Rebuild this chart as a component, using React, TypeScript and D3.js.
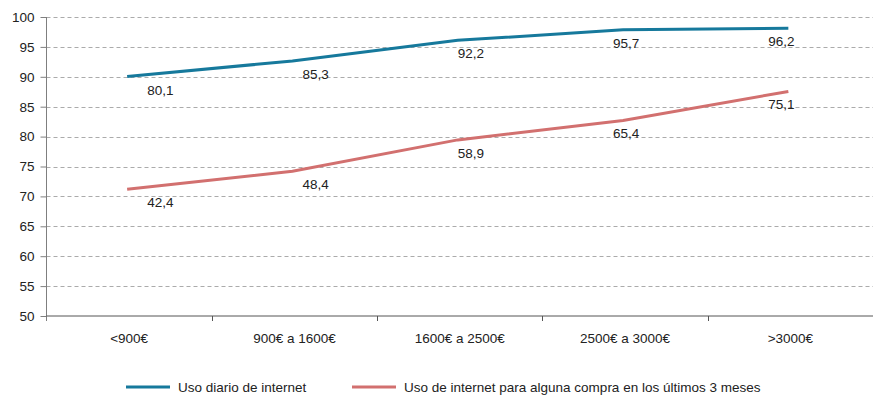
import { useEffect, useRef } from "react"
import * as d3 from "d3"

const categories = ["<900€", "900€ a 1600€", "1600€ a 2500€", "2500€ a 3000€", ">3000€"]
const usoDiario = [80.1, 85.3, 92.2, 95.7, 96.2]
const usoCompra = [42.4, 48.4, 58.9, 65.4, 75.1]
const yTicks = [50, 55, 60, 65, 70, 75, 80, 85, 90, 95, 100]
const seriesNames = ["Uso diario de internet", "Uso de internet para alguna compra en los últimos 3 meses"]
const seriesColors = ["#16799c", "#d2706f"]

const fmt = (v: number) => v.toFixed(1).replace(".", ",")

export default function App() {
  const svgRef = useRef<SVGSVGElement>(null)

  useEffect(() => {
    if (!svgRef.current) return
    const svg = d3.select(svgRef.current)
    svg.selectAll("*").remove()

    const left = 46.5
    const right = 873
    const top = 17
    const bottom = 316
    const font = "'Liberation Sans', Arial, sans-serif"
    const fs = 13.5

    const x = d3.scaleBand().domain(categories).range([left, right])
    // visible axis 50-100, values plotted on a hidden 0-100 scale
    const yAxis = d3.scaleLinear().domain([50, 100]).range([bottom, top])
    const yData = d3.scaleLinear().domain([0, 100]).range([bottom, top])

    // gridlines
    svg
      .append("g")
      .selectAll("line")
      .data(yTicks.slice(1))
      .enter()
      .append("line")
      .attr("x1", left)
      .attr("x2", right)
      .attr("y1", (d) => Math.round(yAxis(d)) + 0.5)
      .attr("y2", (d) => Math.round(yAxis(d)) + 0.5)
      .attr("stroke", "#ababab")
      .attr("stroke-dasharray", "4,3")

    // y axis
    const ya = svg
      .append("g")
      .attr("transform", `translate(${left},0)`)
      .call(d3.axisLeft(yAxis).tickValues(yTicks).tickSize(6).tickPadding(6))
    ya.select(".domain").attr("stroke", "#7f7f7f").attr("d", `M0,${top}V${bottom + 5}`)
    ya.selectAll(".tick line").attr("stroke", "#7f7f7f")
    ya.selectAll("text").attr("font-family", font).attr("font-size", fs).attr("fill", "#222")

    // x axis
    const xa = svg
      .append("g")
      .attr("transform", `translate(0,${bottom})`)
      .call(d3.axisBottom(x).tickSize(0).tickPadding(17))
    xa.select(".domain").attr("stroke", "#555").attr("d", `M${left},0H${right}`)
    xa.selectAll("text").attr("font-family", font).attr("font-size", fs).attr("fill", "#222")
    xa.selectAll(".bound")
      .data(categories.slice(1))
      .enter()
      .append("line")
      .attr("x1", (d) => Math.round(x(d)!) + 0.5)
      .attr("x2", (d) => Math.round(x(d)!) + 0.5)
      .attr("y1", 0)
      .attr("y2", 5)
      .attr("stroke", "#555")

    const cx = (i: number) => x(categories[i])! + x.bandwidth() / 2 - 2

    const line = d3
      .line<number>()
      .x((_, i) => cx(i))
      .y((d) => yData(d))

    ;[usoDiario, usoCompra].forEach((vals, s) => {
      svg
        .append("path")
        .datum(vals)
        .attr("d", line)
        .attr("fill", "none")
        .attr("stroke", seriesColors[s])
        .attr("stroke-width", 3)

      svg
        .append("g")
        .selectAll("text")
        .data(vals)
        .enter()
        .append("text")
        .attr("x", (_, i) => cx(i) + 20 - 10 * i)
        .attr("y", (d) => yData(d) + 18)
        .attr("font-family", font)
        .attr("font-size", fs)
        .attr("fill", "#222")
        .text((d) => fmt(d))
    })

    // legend
    const legendX = [126, 352]
    const legend = svg
      .append("g")
      .selectAll("g")
      .data(seriesNames)
      .enter()
      .append("g")
      .attr("transform", (_, i) => `translate(${legendX[i]},387)`)
    legend
      .append("line")
      .attr("x1", 0)
      .attr("x2", 44)
      .attr("stroke", (_, i) => seriesColors[i])
      .attr("stroke-width", 3)
    legend
      .append("text")
      .attr("x", 52)
      .attr("dy", "0.35em")
      .attr("font-family", font)
      .attr("font-size", fs)
      .attr("fill", "#222")
      .text((d) => d)
  }, [])

  return <svg ref={svgRef} width={873} height={396} style={{ position: "absolute", left: 0, top: 0 }} />
}
